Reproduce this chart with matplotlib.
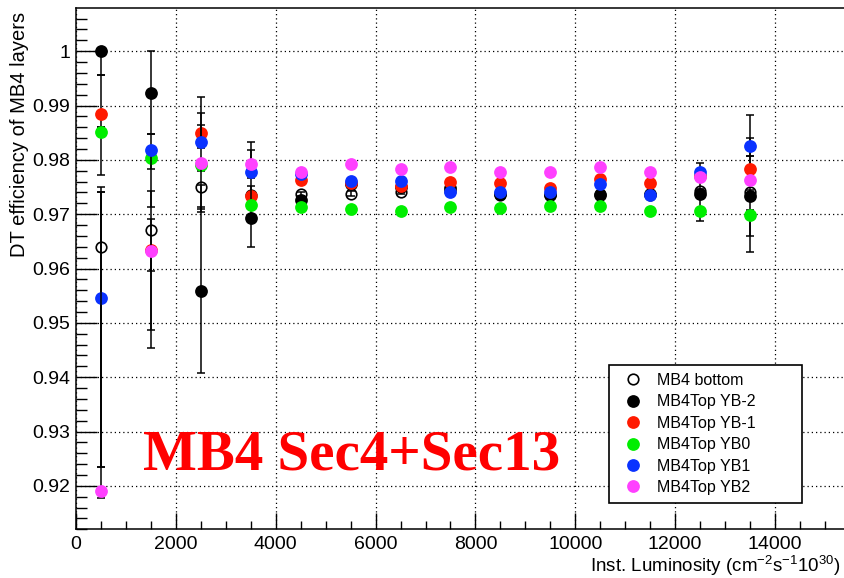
import matplotlib
matplotlib.use("Agg")
import matplotlib.pyplot as plt
from matplotlib.lines import Line2D
from matplotlib.ticker import MultipleLocator, FixedLocator, FuncFormatter

plt.rcParams['font.family'] = ['Liberation Sans', 'DejaVu Sans']
plt.rcParams['mathtext.fontset'] = 'custom'
plt.rcParams['mathtext.rm'] = 'Liberation Sans'
plt.rcParams['mathtext.it'] = 'Liberation Sans:italic'

# Instantaneous luminosity bins (units of 1e30 cm^-2 s^-1)
lumi = [500, 1500, 2500, 3500, 4500, 5500, 6500, 7500, 8500, 9500, 10500, 11500, 12500, 13500]

labels = ["MB4 bottom", "MB4Top YB-2", "MB4Top YB-1", "MB4Top YB0", "MB4Top YB1", "MB4Top YB2"]
colors = ["black", "black", "#ff1a00", "#00ee00", "#0a32ff", "#ff40ff"]

eff_bottom = [0.9639, 0.9670, 0.9750, 0.9736, 0.9737, 0.9738, 0.9741, 0.9742, 0.9735, 0.9735, 0.9737, 0.9736, 0.9743, 0.9741]
eff_ybm2 = [1.0000, 0.9923, 0.9558, 0.9693, 0.9726, 0.9755, 0.9750, 0.9748, 0.9738, 0.9736, 0.9735, 0.9737, 0.9737, 0.9733]
eff_ybm1 = [0.9885, 0.9634, 0.9849, 0.9733, 0.9763, 0.9757, 0.9752, 0.9760, 0.9757, 0.9748, 0.9764, 0.9757, 0.9770, 0.9784]
eff_yb0 = [0.9852, 0.9803, 0.9790, 0.9717, 0.9713, 0.9710, 0.9706, 0.9714, 0.9711, 0.9716, 0.9716, 0.9706, 0.9706, 0.9699]
eff_yb1 = [0.9545, 0.9818, 0.9832, 0.9778, 0.9774, 0.9761, 0.9762, 0.9740, 0.9741, 0.9740, 0.9755, 0.9735, 0.9778, 0.9825]
eff_yb2 = [0.9190, 0.9632, 0.9795, 0.9792, 0.9778, 0.9792, 0.9783, 0.9786, 0.9777, 0.9778, 0.9787, 0.9778, 0.9768, 0.9763]

# Asymmetric (low, high) uncertainties
err_bottom_lo = [0.0405, 0.0074, 0.0046, 0.0004, 0.0004, 0.0004, 0.0004, 0.0004, 0.0004, 0.0004, 0.0004, 0.0004, 0.0004, 0.0004]
err_bottom_hi = [0.0111, 0.0073, 0.0004, 0.0004, 0.0004, 0.0004, 0.0004, 0.0004, 0.0004, 0.0004, 0.0004, 0.0004, 0.0004, 0.0004]
err_ybm2_lo = [0.0043, 0.0076, 0.0151, 0.0053, 0.0004, 0.0004, 0.0004, 0.0004, 0.0004, 0.0004, 0.0004, 0.0004, 0.0049, 0.0102]
err_ybm2_hi = [0.0000, 0.0077, 0.0155, 0.0030, 0.0004, 0.0004, 0.0004, 0.0004, 0.0004, 0.0004, 0.0004, 0.0004, 0.0031, 0.0074]
err_ybm1_lo = [0.0025, 0.0148, 0.0010, 0.0004, 0.0004, 0.0004, 0.0004, 0.0004, 0.0004, 0.0004, 0.0004, 0.0004, 0.0004, 0.0004]
err_ybm1_hi = [0.0072, 0.0004, 0.0066, 0.0033, 0.0004, 0.0004, 0.0004, 0.0004, 0.0004, 0.0004, 0.0004, 0.0004, 0.0004, 0.0057]
err_yb0_lo = [0.0079, 0.0090, 0.0010, 0.0005, 0.0004, 0.0004, 0.0004, 0.0004, 0.0004, 0.0004, 0.0004, 0.0004, 0.0004, 0.0040]
err_yb0_hi = [0.0008, 0.0006, 0.0075, 0.0035, 0.0004, 0.0004, 0.0004, 0.0004, 0.0004, 0.0004, 0.0004, 0.0004, 0.0004, 0.0008]
err_yb1_lo = [0.0311, 0.0035, 0.0010, 0.0004, 0.0004, 0.0004, 0.0004, 0.0004, 0.0004, 0.0004, 0.0004, 0.0004, 0.0004, 0.0017]
err_yb1_hi = [0.0196, 0.0029, 0.0055, 0.0041, 0.0004, 0.0004, 0.0004, 0.0004, 0.0004, 0.0004, 0.0004, 0.0004, 0.0016, 0.0058]
err_yb2_lo = [0.0012, 0.0179, 0.0086, 0.0004, 0.0004, 0.0004, 0.0004, 0.0004, 0.0004, 0.0004, 0.0004, 0.0004, 0.0004, 0.0004]
err_yb2_hi = [0.0551, 0.0059, 0.0004, 0.0040, 0.0004, 0.0004, 0.0004, 0.0004, 0.0004, 0.0004, 0.0004, 0.0004, 0.0004, 0.0004]

y_ticks = [0.92, 0.93, 0.94, 0.95, 0.96, 0.97, 0.98, 0.99, 1.00]
x_ticks = [0, 2000, 4000, 6000, 8000, 10000, 12000, 14000]

series = [
    (eff_bottom, err_bottom_lo, err_bottom_hi),
    (eff_ybm2, err_ybm2_lo, err_ybm2_hi),
    (eff_ybm1, err_ybm1_lo, err_ybm1_hi),
    (eff_yb0, err_yb0_lo, err_yb0_hi),
    (eff_yb1, err_yb1_lo, err_yb1_hi),
    (eff_yb2, err_yb2_lo, err_yb2_hi),
]

W, H = 845, 578
fig = plt.figure(figsize=(W / 100, H / 100), dpi=100)
# frame: left edge at x=76 px, top at 8 px, bottom at 529 px; right side runs past the canvas
ax = fig.add_axes([76 / W, (H - 529.3) / H, 798.9 / W, (529.3 - 8.3) / H])
ax.set_xlim(0, 16000)
ax.set_ylim(0.912, 1.0079)

ax.set_axisbelow(True)
ax.grid(True, which='major', color='black', linestyle=(0, (1.0, 2.4)), linewidth=0.9)

ms = 9.2
handles = []
for i, ((vals, lo, hi), col, lab) in enumerate(zip(series, colors, labels)):
    z = 3 + i
    ax.errorbar(lumi, vals, yerr=[lo, hi], fmt='none', ecolor='black',
                elinewidth=1.1, capsize=2.9, capthick=1.1, zorder=z)
    if i == 0:
        ax.plot(lumi, vals, linestyle='none', marker='o', ms=7.6, mfc='none',
                mec='black', mew=1.2, zorder=z + 0.5)
        handles.append(Line2D([], [], linestyle='none', marker='o', ms=7.6,
                              mfc='none', mec='black', mew=1.2))
    else:
        ax.plot(lumi, vals, linestyle='none', marker='o', ms=ms, mfc=col,
                mec=col, mew=0, zorder=z + 0.5)
        handles.append(Line2D([], [], linestyle='none', marker='o', ms=ms,
                              mfc=col, mec=col, mew=0))

for s in ax.spines.values():
    s.set_linewidth(1.1)
    s.set_zorder(20)

ax.xaxis.set_major_locator(FixedLocator(x_ticks))
ax.xaxis.set_minor_locator(MultipleLocator(500))
ax.yaxis.set_major_locator(FixedLocator(y_ticks))
ax.yaxis.set_minor_locator(MultipleLocator(0.002))
ax.yaxis.set_major_formatter(FuncFormatter(lambda v, p: f"{round(v, 2):g}"))
ax.xaxis.set_major_formatter(FuncFormatter(lambda v, p: f"{int(round(v))}"))

ax.tick_params(axis='both', which='both', direction='in', top=False, right=False,
               labelsize=14, width=1.0)
ax.tick_params(axis='x', which='major', length=11.5, pad=4.5)
ax.tick_params(axis='x', which='minor', length=5.8)
ax.tick_params(axis='y', which='major', length=15, pad=4)
ax.tick_params(axis='y', which='minor', length=7.6)

fig.text(20 / W, 1 - 12 / H, "DT efficiency of MB4 layers", rotation=90,
         ha='center', va='top', fontsize=14.5)
fig.text(841 / W, 1 - 572 / H,
         r"Inst. Luminosity (cm$^{-2}$s$^{-1}$10$^{30}$)",
         ha='right', va='baseline', fontsize=13.5)

fig.text(143 / W, 1 - 470 / H, "MB4 Sec4+Sec13", family=['Liberation Serif', 'DejaVu Serif'],
         fontweight='bold', fontsize=41, color='#ff0000', va='baseline')

leg = ax.legend(handles, labels, loc='upper left',
                bbox_to_anchor=(609 / W, (H - 496) / H, 193 / W, 131 / H),
                bbox_transform=fig.transFigure, mode='expand',
                fontsize=11.5, handlelength=2.0, handletextpad=0.5,
                borderpad=0.5, labelspacing=0.4, borderaxespad=0,
                fancybox=False, framealpha=1, edgecolor='black')
leg.get_frame().set_linewidth(1.2)
leg.set_zorder(30)

fig.savefig("out.png", dpi=100)
